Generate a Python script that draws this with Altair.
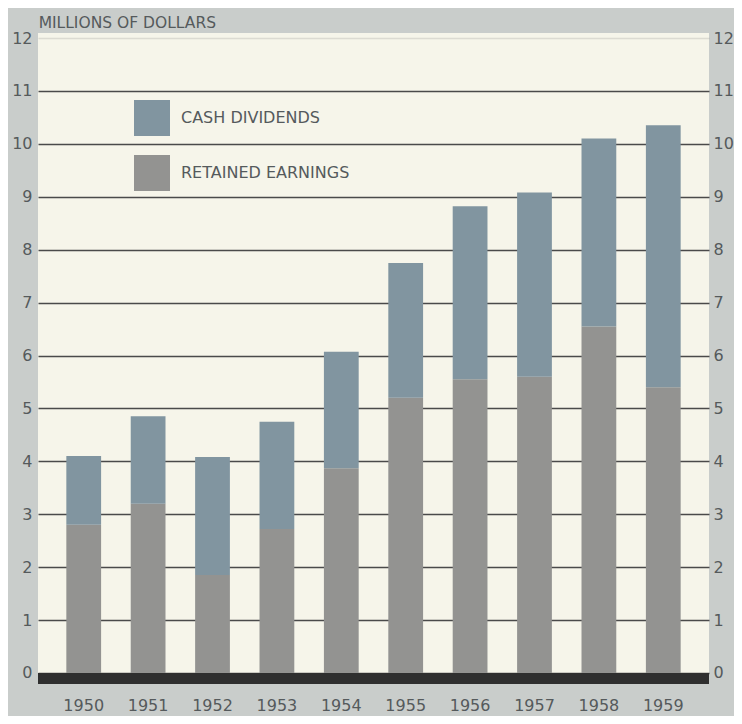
import altair as alt
import pandas as pd

years = ["1950", "1951", "1952", "1953", "1954", "1955", "1956", "1957", "1958", "1959"]
retained = [2.8, 3.2, 1.85, 2.72, 3.87, 5.2, 5.55, 5.6, 6.55, 5.4]
dividends = [1.3, 1.65, 2.23, 2.03, 2.2, 2.55, 3.27, 3.48, 3.55, 4.95]
series = ["CASH DIVIDENDS", "RETAINED EARNINGS"]
colors = ["#8195a0", "#939391"]
y_ticks = list(range(0, 13))

rows = []
for i, yr in enumerate(years):
    rows.append({"year": yr, "series": series[1], "value": retained[i], "ord": 0})
    rows.append({"year": yr, "series": series[0], "value": dividends[i], "ord": 1})
df = pd.DataFrame(rows)

FONT = "DejaVu Sans"
TXT = "#555a5c"
ydom = [-0.208, 12.095]
W, H = 671, 651

xenc = alt.X("year:N", title=None,
             scale=alt.Scale(paddingInner=0.46, paddingOuter=0.44),
             axis=alt.Axis(labelAngle=0, ticks=False, domain=False, labelPadding=13,
                           labelFontSize=16, labelFont=FONT, labelColor=TXT))

bars = alt.Chart(df).mark_bar(stroke=None).encode(
    x=xenc,
    y=alt.Y("sum(value):Q", title=None, stack="zero",
            scale=alt.Scale(domain=ydom, nice=False, zero=False),
            axis=alt.Axis(orient="left", values=y_ticks, ticks=False, domain=False,
                          grid=True, gridColor="#4a4a4a", gridWidth=1.5,
                          gridOpacity=alt.condition("datum.value == 12", alt.value(0.15), alt.value(1)),
                          labelFontSize=16, labelFont=FONT, labelColor=TXT, labelPadding=6)),
    color=alt.Color("series:N", title=None,
                    scale=alt.Scale(domain=series, range=colors),
                    legend=alt.Legend(orient="none", legendX=96, legendY=67,
                                      symbolType="square", symbolSize=1296,
                                      symbolStrokeWidth=0, symbolOpacity=1,
                                      labelFontSize=16, labelFont=FONT, labelColor=TXT,
                                      labelOffset=11, rowPadding=19, padding=0,
                                      labelLimit=400)),
    order=alt.Order("ord:Q", sort="ascending"),
)

baseline = alt.Chart(pd.DataFrame({"a": [0]})).mark_rect(color="#2f2f2f").encode(
    x=alt.value(0), x2=alt.value(W),
    y=alt.YDatum(0, axis=None), y2=alt.Y2Datum(ydom[0]),
)

right = alt.Chart(pd.DataFrame({"v": [0]})).mark_rule(opacity=0).encode(
    y=alt.Y("v:Q", title=None,
            scale=alt.Scale(domain=ydom, nice=False, zero=False),
            axis=alt.Axis(orient="right", values=y_ticks, ticks=False, domain=False,
                          grid=False, labelFontSize=16, labelFont=FONT, labelColor=TXT,
                          labelPadding=4)),
)

chart = alt.layer(bars, baseline, right).resolve_axis(y="independent").properties(
    width=W, height=H,
    padding={"left": 30, "top": 25, "right": 25, "bottom": 32},
    autosize=alt.AutoSizeParams(type="none"),
    background="#c9cdcb",
    title=alt.TitleParams("MILLIONS OF DOLLARS", anchor="start", fontSize=15.5,
                          font=FONT, fontWeight="normal", color=TXT, offset=10, dx=27, dy=11),
).configure_view(fill="#f6f5ea", stroke=None)

chart.save("out.html", embed_options={"renderer": "svg", "actions": False})
